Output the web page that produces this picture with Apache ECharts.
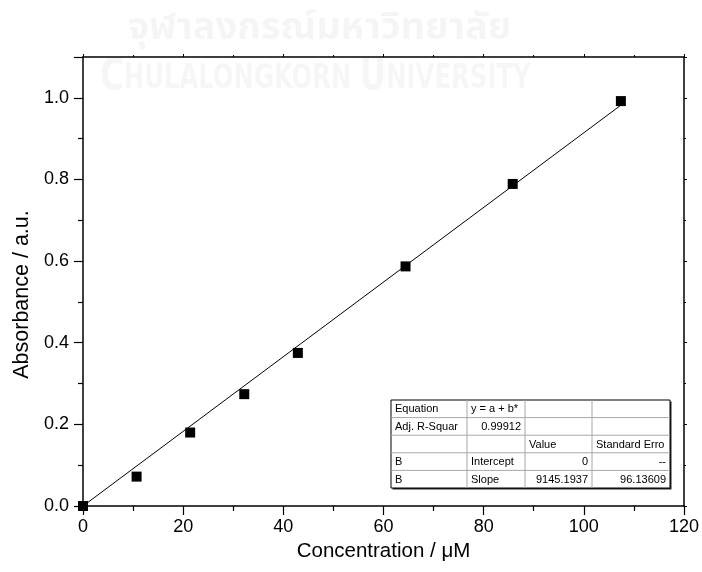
<!DOCTYPE html>
<html><head><meta charset="utf-8">
<script src="https://cdn.jsdelivr.net/npm/echarts@6/dist/echarts.min.js"></script>
<style>html,body{margin:0;padding:0;background:#fff}#c{width:702px;height:572px}</style>
</head><body><div id="c"></div>
<script>
// ---- data ----
const concentration = [0, 10.7, 21.4, 32.2, 42.9, 64.4, 85.8, 107.4];
const absorbance    = [0, 0.072, 0.180, 0.274, 0.375, 0.587, 0.789, 0.992];
const fitX = [0, 107.4];
const fitY = [0, 0.982];
const xName = 'Concentration / \u03BCM';
const yName = 'Absorbance / a.u.';
const tableRows = [
  ['Equation', 'y = a + b*', '', ''],
  ['Adj. R-Squar', '0.99912', '', ''],
  ['', '', 'Value', 'Standard Erro'],
  ['B', 'Intercept', '0', '--'],
  ['B', 'Slope', '9145.1937', '96.13609']
];
const tableAlign = [
  ['left', 'left', 'left', 'left'],
  ['left', 'right', 'left', 'left'],
  ['left', 'left', 'left', 'left'],
  ['left', 'left', 'right', 'right'],
  ['left', 'left', 'right', 'right']
];
const watermarkThai = 'จุฬาลงกรณ์มหาวิทยาลัย';
const watermarkEng = ['C', 'HULALONGKORN ', 'U', 'NIVERSITY'];

const FF = '"Liberation Sans", Arial, sans-serif';
const chart = echarts.init(document.getElementById('c'), null, {renderer: 'canvas'});

// table layout
const colX = [391, 467, 525, 592, 670];
const tTop = 400, rowH = 17.6;
const tableEls = [];
const tW = colX[4] - colX[0], tH = rowH * tableRows.length;
tableEls.push({type: 'rect', shape: {x: colX[0] + 1.5, y: tTop + 1.5, width: tW, height: tH}, style: {fill: '#222'}, z: 100});
tableEls.push({type: 'rect', shape: {x: colX[0], y: tTop, width: tW, height: tH}, style: {fill: '#fff', stroke: '#000', lineWidth: 1}, z: 101});
for (let r = 1; r < tableRows.length; r++) {
  tableEls.push({type: 'line', shape: {x1: colX[0], y1: tTop + r * rowH, x2: colX[4], y2: tTop + r * rowH}, style: {stroke: '#a8a8a8', lineWidth: 1}, z: 102});
}
for (let c = 1; c < 4; c++) {
  tableEls.push({type: 'line', shape: {x1: colX[c], y1: tTop, x2: colX[c], y2: tTop + tH}, style: {stroke: '#a8a8a8', lineWidth: 1}, z: 102});
}
tableRows.forEach((row, r) => {
  row.forEach((txt, c) => {
    if (!txt) return;
    const al = tableAlign[r][c];
    tableEls.push({
      type: 'text', z: 103,
      style: {
        text: txt, x: al === 'left' ? colX[c] + 4 : colX[c + 1] - 4, y: tTop + r * rowH + rowH / 2 + 0.5,
        align: al, verticalAlign: 'middle', fill: '#000', font: '11px ' + FF
      }
    });
  });
});

const option = {
  animation: false,
  backgroundColor: '#fff',
  grid: {left: 83, top: 57, width: 604, height: 449, containLabel: false},
  xAxis: [{
    type: 'value', min: 0, max: 120, interval: 20, position: 'bottom',
    axisLine: {show: true, onZero: false, lineStyle: {color: '#000', width: 1.5}},
    axisTick: {show: true, length: 9, lineStyle: {color: '#000', width: 1.2}},
    minorTick: {show: true, splitNumber: 2, length: 5, lineStyle: {color: '#000', width: 1.2}},
    splitLine: {show: false}, minorSplitLine: {show: false},
    axisLabel: {fontSize: 18, color: '#000', margin: 12, fontFamily: FF},
    name: xName, nameLocation: 'middle', nameGap: 35,
    nameTextStyle: {fontSize: 20.5, color: '#000', fontFamily: FF}
  }, {
    type: 'value', min: 0, max: 120, interval: 20, position: 'top',
    axisLine: {show: true, onZero: false, lineStyle: {color: '#000', width: 1.5}},
    axisTick: {show: true, length: 3, lineStyle: {color: '#000'}},
    minorTick: {show: true, splitNumber: 2, length: 2, lineStyle: {color: '#000'}},
    splitLine: {show: false}, axisLabel: {show: false}
  }],
  yAxis: [{
    type: 'value', min: 0, max: 1.1, interval: 0.2, position: 'left',
    axisLine: {show: true, onZero: false, lineStyle: {color: '#000', width: 1.5}},
    axisTick: {show: true, length: 9, lineStyle: {color: '#000', width: 1.2}},
    minorTick: {show: true, splitNumber: 2, length: 5, lineStyle: {color: '#000', width: 1.2}},
    splitLine: {show: false}, minorSplitLine: {show: false},
    axisLabel: {fontSize: 18, color: '#000', margin: 14, fontFamily: FF,
      formatter: v => (v > 1.05 ? '' : v.toFixed(1))},
    name: yName, nameLocation: 'middle', nameGap: 50,
    nameTextStyle: {fontSize: 21.5, color: '#000', fontFamily: FF, padding: [0, 26, 0, 0]}
  }, {
    type: 'value', min: 0, max: 1.1, interval: 0.2, position: 'right',
    axisLine: {show: true, onZero: false, lineStyle: {color: '#000', width: 1.5}},
    axisTick: {show: true, length: 3, lineStyle: {color: '#000'}},
    minorTick: {show: true, splitNumber: 2, length: 2, lineStyle: {color: '#000'}},
    splitLine: {show: false}, axisLabel: {show: false}
  }],
  graphic: [
    {type: 'text', z: -1, silent: true, x: 128, y: 31, scaleX: 1.0,
      style: {text: watermarkThai, x: 0, y: 0, verticalAlign: 'middle',
      font: 'bold 38px "Noto Sans Thai", "Noto Sans", "DejaVu Sans", sans-serif', fill: 'rgba(0,0,0,0.04)'}},
    {type: 'text', z: -1, silent: true, x: 100, y: 101, scaleX: 0.82,
      style: {
      text: '{b|' + watermarkEng[0] + '}{s|' + watermarkEng[1] + '}{b|' + watermarkEng[2] + '}{s|' + watermarkEng[3] + '}',
      x: 0, y: 0, verticalAlign: 'bottom',
      rich: {
        b: {font: 'bold 44px "DejaVu Sans Condensed", "Liberation Sans Narrow", sans-serif', fill: 'rgba(0,0,0,0.035)'},
        s: {font: 'bold 33px "DejaVu Sans Condensed", "Liberation Sans Narrow", sans-serif', fill: 'rgba(0,0,0,0.035)'}
      }}},
    {type: 'group', children: tableEls}
  ],
  series: [{
    type: 'line', xAxisIndex: 0, yAxisIndex: 0,
    data: fitX.map((x, i) => [x, fitY[i]]),
    symbol: 'none', lineStyle: {color: '#000', width: 1}, z: 2
  }, {
    type: 'scatter', xAxisIndex: 0, yAxisIndex: 0,
    data: concentration.map((x, i) => [x, absorbance[i]]),
    symbol: 'rect', symbolSize: 10, itemStyle: {color: '#000', opacity: 1}, z: 3
  }]
};
chart.setOption(option);
</script></body></html>
